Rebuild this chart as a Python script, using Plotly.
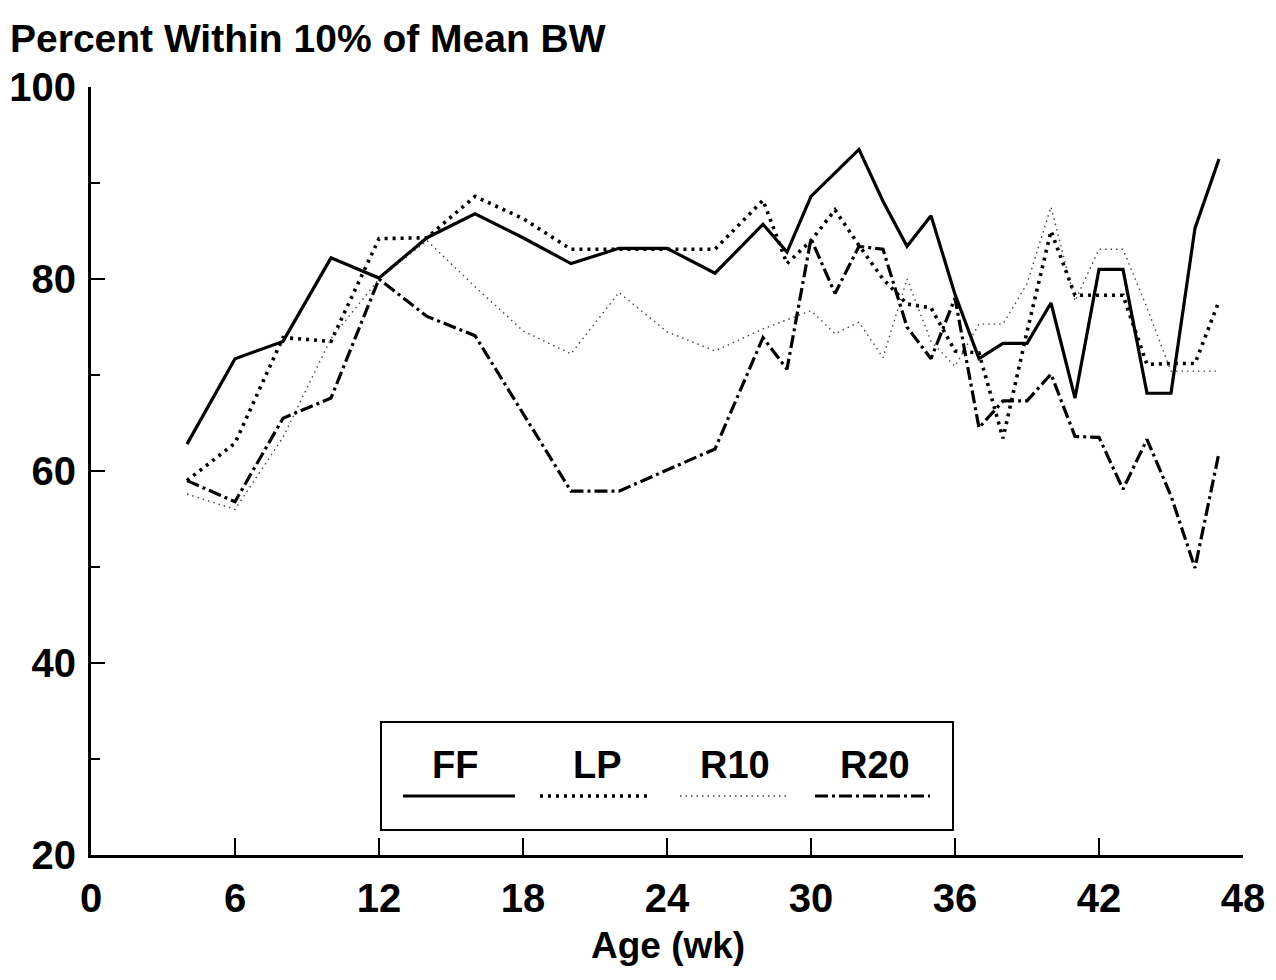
import plotly.graph_objects as go

# Percent of birds within 10% of mean body weight, by age (weeks)
series_names = ["FF", "LP", "R10", "R20"]

ff_weeks = [4, 6, 8, 10, 12, 14, 16, 18, 20, 22, 24, 26, 28, 29, 30, 32, 33, 34, 35,
            36, 37, 38, 39, 40, 41, 42, 43, 44, 45, 46, 47]
ff_pct = [62.8, 71.7, 73.5, 82.2, 80.1, 84.3, 86.8, 84.3, 81.6, 83.2, 83.2, 80.6, 85.7, 82.8,
          88.6, 93.5, 88.1, 83.4, 86.6, 78.4, 71.7, 73.3, 73.3, 77.5, 67.6, 81.0, 81.0, 68.1,
          68.1, 85.3, 92.5]

lp_weeks = [4, 6, 8, 10, 12, 14, 16, 18, 20, 22, 24, 26, 28, 29, 30, 31, 32, 33, 34, 35,
            36, 37, 38, 39, 40, 41, 42, 43, 44, 45, 46, 47]
lp_pct = [59.0, 62.9, 73.9, 73.5, 84.2, 84.3, 88.6, 86.3, 83.1, 83.1, 83.1, 83.1, 88.2, 81.6,
          84.0, 87.2, 83.5, 80.0, 77.4, 77.0, 72.5, 72.3, 63.4, 74.5, 85.0, 78.3, 78.3, 78.3,
          71.1, 71.2, 71.2, 77.7]

r10_weeks = [4, 6, 8, 10, 12, 14, 16, 18, 20, 22, 24, 26, 28, 30, 31, 32, 33, 34, 35, 36,
             37, 38, 39, 40, 41, 42, 43, 44, 45, 46, 47]
r10_pct = [57.6, 56.0, 63.5, 73.8, 80.0, 84.0, 79.2, 74.6, 72.2, 78.6, 74.5, 72.5, 74.8, 76.7,
           74.3, 75.5, 71.8, 80.0, 73.5, 70.9, 75.3, 75.3, 79.5, 87.5, 77.7, 83.1, 83.1, 77.0,
           70.4, 70.4, 70.4]

r20_weeks = [4, 6, 8, 10, 12, 14, 16, 20, 22, 26, 28, 29, 30, 31, 32, 33, 34, 35, 36, 37,
             38, 39, 40, 41, 42, 43, 44, 45, 46, 47]
r20_pct = [59.0, 56.8, 65.5, 67.6, 80.0, 76.1, 74.1, 57.9, 57.9, 62.3, 73.9, 70.6, 84.2, 78.5,
           83.4, 83.1, 75.0, 71.7, 78.0, 64.5, 67.3, 67.3, 70.1, 63.6, 63.5, 58.1, 63.3, 57.4,
           49.9, 61.9]

x_ticks = [0, 6, 12, 18, 24, 30, 36, 42, 48]
y_ticks = [20, 40, 60, 80, 100]

FONT = "Liberation Sans, Arial, Helvetica, sans-serif"

styles = {
    "FF": dict(color="black", width=3.2, dash="solid"),
    "LP": dict(color="black", width=3.6, dash="3px,5px"),
    "R10": dict(color="#444444", width=1.4, dash="1.5px,4px"),
    "R20": dict(color="black", width=3.2, dash="13px,4px,3px,4px"),
}

data = {
    "FF": (ff_weeks, ff_pct),
    "LP": (lp_weeks, lp_pct),
    "R10": (r10_weeks, r10_pct),
    "R20": (r20_weeks, r20_pct),
}

fig = go.Figure()
for name in series_names:
    wk, pct = data[name]
    fig.add_trace(go.Scatter(x=wk, y=pct, mode="lines", name=name,
                             line=styles[name], showlegend=False))

W, H = 1276, 980
ML, MR, MT, MB = 91, 33, 87, 125
PW, PH = W - ML - MR, H - MT - MB


def px(xp):
    return (xp - ML) / PW


def py(yp):
    return (H - MB - yp) / PH


fig.update_layout(
    width=W, height=H,
    margin=dict(l=ML, r=MR, t=MT, b=MB, autoexpand=False),
    paper_bgcolor="white", plot_bgcolor="white",
    font=dict(family=FONT, color="black"),
)

fig.update_xaxes(
    range=[0, 48], tickvals=x_ticks, ticktext=[str(v) for v in x_ticks],
    showgrid=False, zeroline=False, automargin=False,
    showline=True, linecolor="black", linewidth=3,
    ticks="inside", ticklen=17, tickwidth=2, tickcolor="black",
    tickfont=dict(family=FONT, size=40, weight="bold"),
    ticklabelstandoff=6,
)
fig.update_yaxes(
    range=[20, 100], tickvals=y_ticks, ticktext=[str(v) for v in y_ticks],
    showgrid=False, zeroline=False, automargin=False,
    showline=True, linecolor="black", linewidth=3,
    ticks="inside", ticklen=14, tickwidth=2, tickcolor="black",
    tickfont=dict(family=FONT, size=40, weight="bold"),
    ticklabelstandoff=4,
    minor=dict(dtick=10, tick0=0, ticks="inside", ticklen=9, tickwidth=2, tickcolor="black"),
)

annotations = [
    dict(text="Percent Within 10% of Mean BW", x=px(8), y=py(38), xref="paper", yref="paper",
         xanchor="left", yanchor="middle", showarrow=False,
         font=dict(family=FONT, size=39, weight="bold")),
    dict(text="Age (wk)", x=px(668), y=py(945), xref="paper", yref="paper",
         xanchor="center", yanchor="middle", showarrow=False,
         font=dict(family=FONT, size=37, weight="bold")),
]

shapes = [
    dict(type="rect", xref="paper", yref="paper",
         x0=px(381), x1=px(953), y0=py(830), y1=py(722),
         line=dict(color="black", width=2), fillcolor="white", layer="above"),
]

legend_text_x = [455, 597, 735, 875]
legend_line_x = [(403, 515), (540, 652), (680, 790), (815, 930)]
for name, tx, (l0, l1) in zip(series_names, legend_text_x, legend_line_x):
    annotations.append(dict(text=name, x=px(tx), y=py(765), xref="paper", yref="paper",
                            xanchor="center", yanchor="middle", showarrow=False,
                            font=dict(family=FONT, size=38, weight="bold")))
    st = styles[name]
    shapes.append(dict(type="line", xref="paper", yref="paper",
                       x0=px(l0), x1=px(l1), y0=py(796), y1=py(796),
                       line=dict(color=st["color"], width=st["width"], dash=st["dash"]),
                       layer="above"))

fig.update_layout(annotations=annotations, shapes=shapes)

fig.write_html("out.html")
